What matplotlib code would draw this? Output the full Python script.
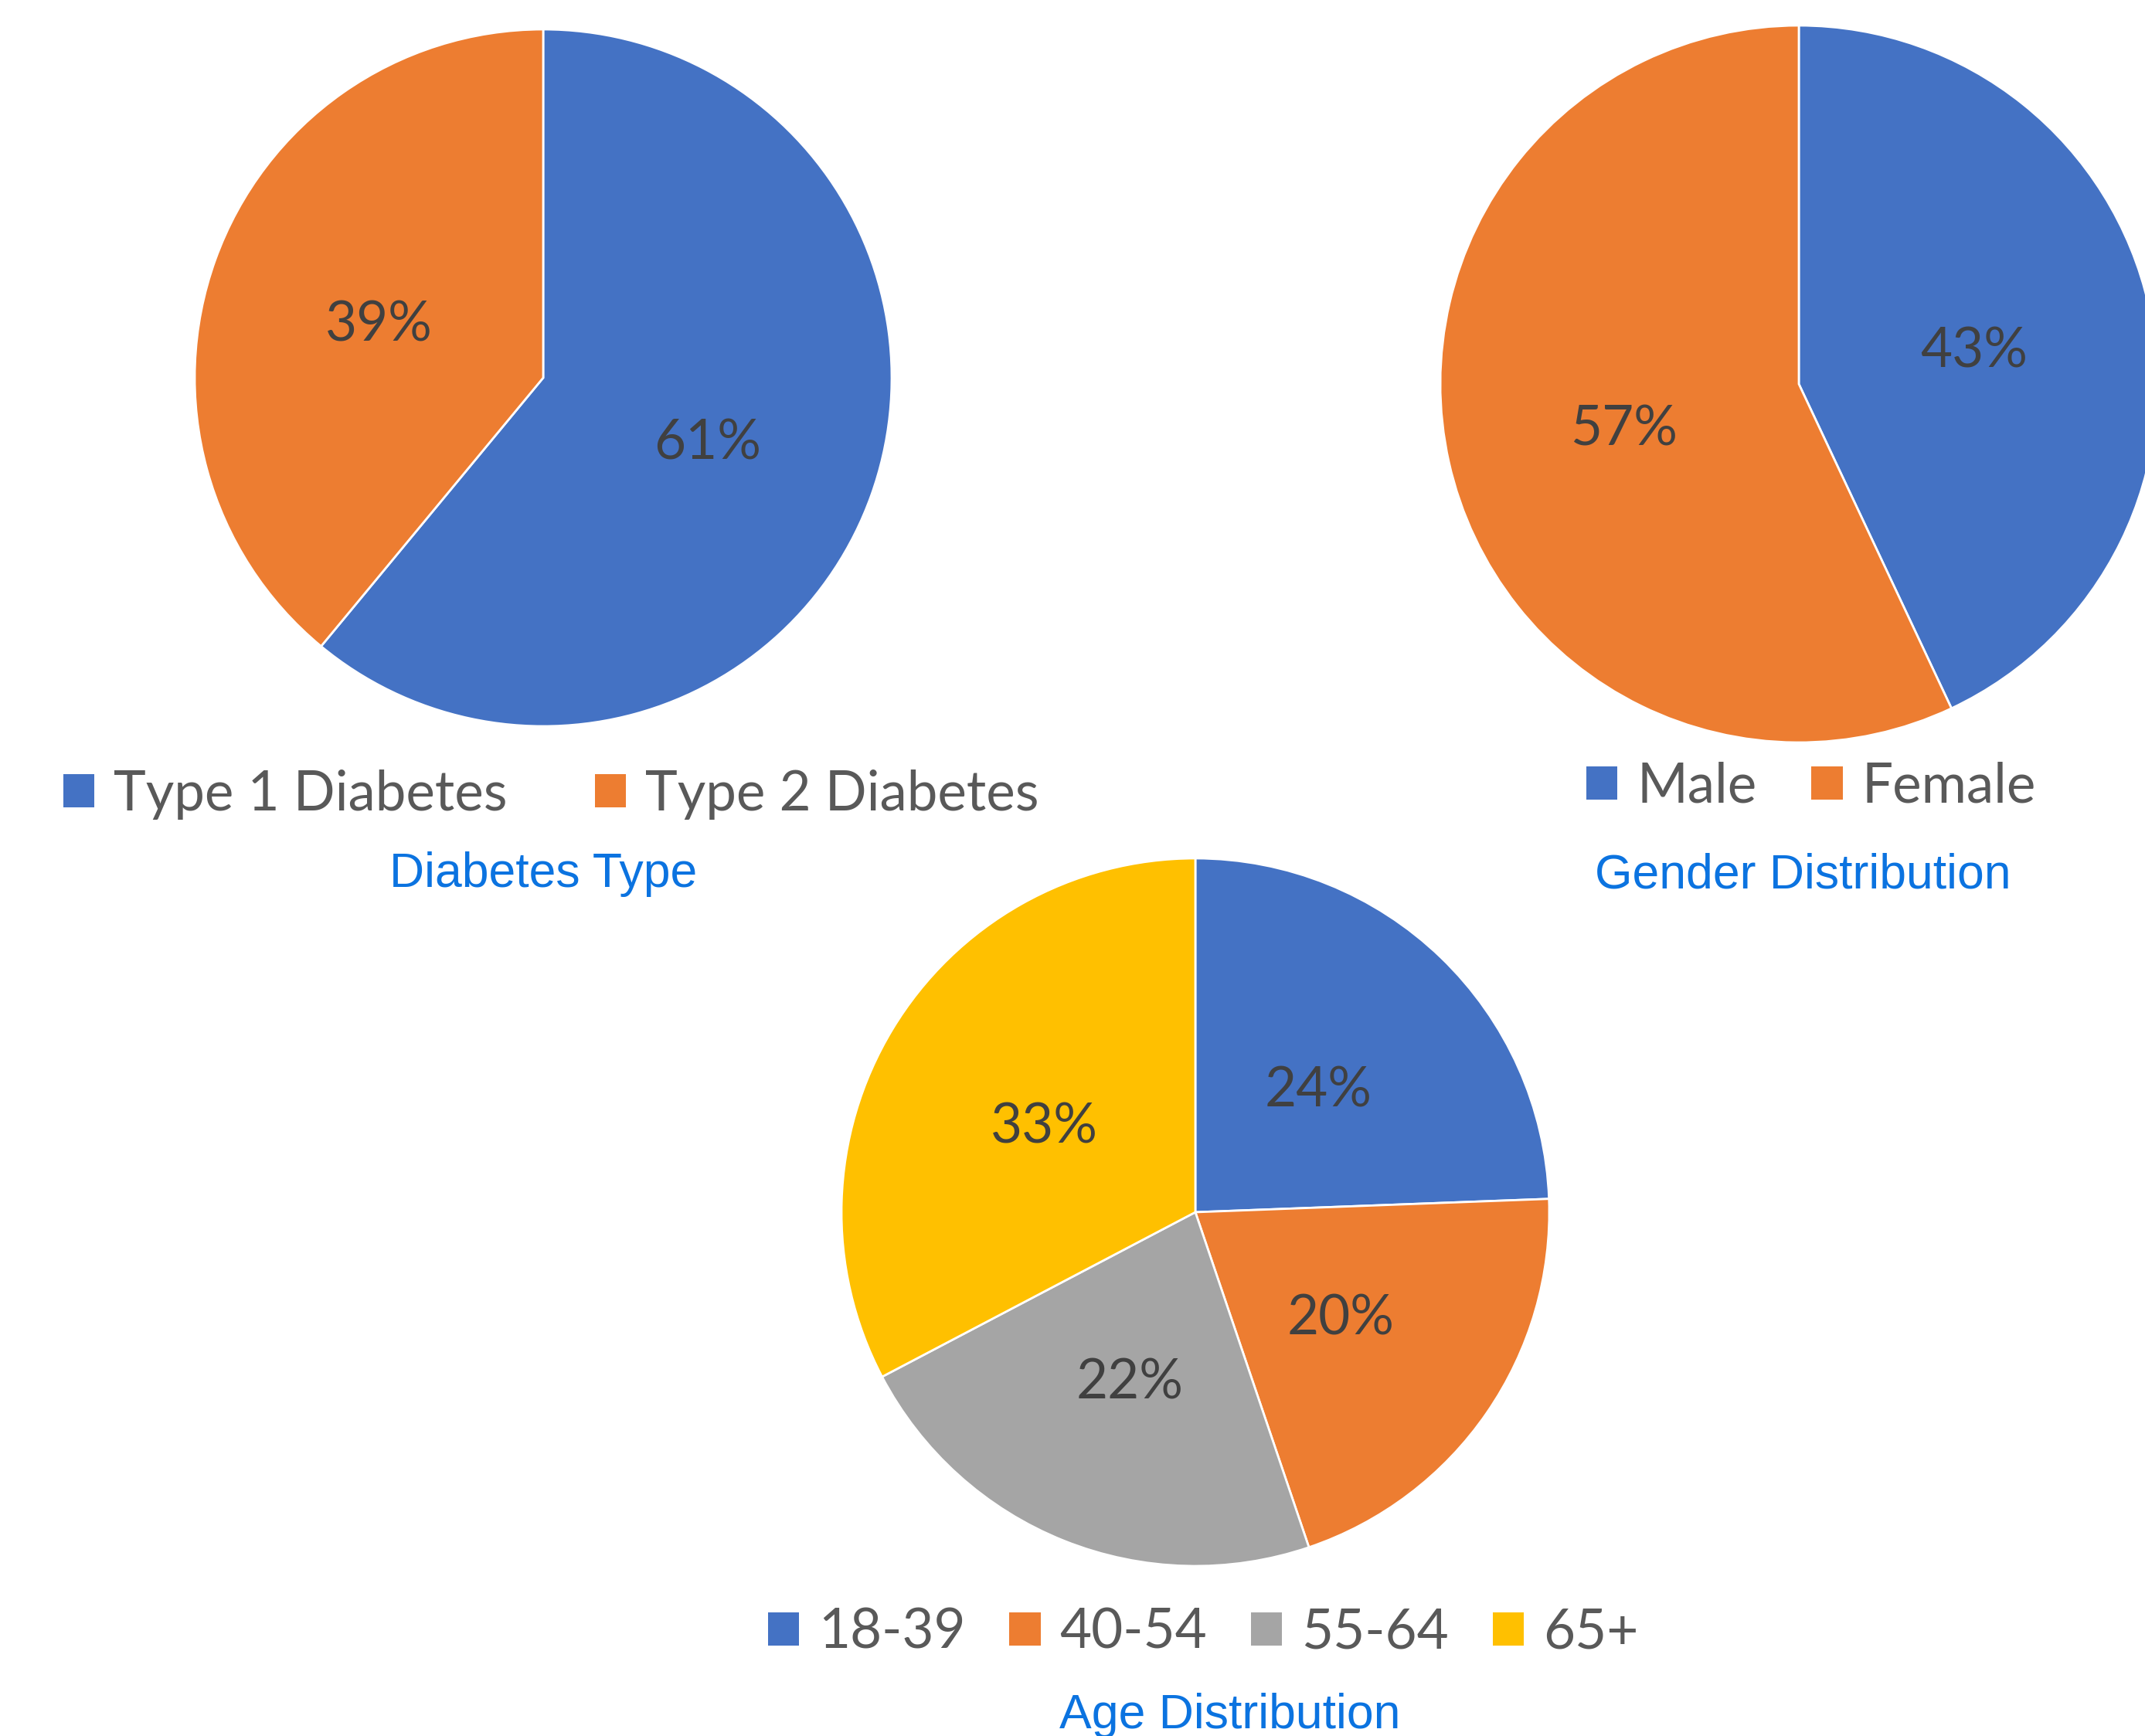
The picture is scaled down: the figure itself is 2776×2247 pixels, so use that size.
import matplotlib.pyplot as plt
from matplotlib.patches import Patch
from matplotlib.transforms import offset_copy

W, H = 2776, 2247

TYPE_LABELS = ['Type 1 Diabetes', 'Type 2 Diabetes']
TYPE_SHARE = [61, 39]

GENDER_LABELS = ['Male', 'Female']
GENDER_SHARE = [43, 57]

AGE_LABELS = ['18-39', '40-54', '55-64', '65+']
AGE_SHARE = [24.4, 20.4, 22.5, 32.7]

BLUE = '#4472C4'
ORANGE = '#ED7D31'
GRAY = '#A5A5A5'
YELLOW = '#FFC000'
TITLE_COLOR = '#0B73E0'
LABEL_COLOR = '#404040'
LEGEND_COLOR = '#595959'

LABEL_FONT = 'Lato'
TITLE_FONT = 'Liberation Sans'


def pie_axes(fig, cx, cy, r):
    # cx, cy, r in pixels (top-left origin)
    return fig.add_axes([(cx - r) / W, 1 - (cy + r) / H, 2 * r / W, 2 * r / H])


def draw_pie(ax, values, colors):
    wedges, texts, autotexts = ax.pie(
        values, colors=colors, startangle=90, counterclock=False,
        autopct='%.0f%%', pctdistance=0.5, radius=1,
        wedgeprops=dict(edgecolor='white', linewidth=2),
        textprops=dict(color=LABEL_COLOR, fontsize=51, family=LABEL_FONT))
    # pie() pads the limits, make the pie fill the axes
    ax.set_xlim(-1, 1)
    ax.set_ylim(-1, 1)
    ax.axis('off')
    # labels sit a little lower in the original
    for t in autotexts:
        t.set_transform(offset_copy(ax.transData, fig=ax.figure, x=0, y=-6, units='points'))


def add_legend(fig, labels, colors, x, y, colspace):
    handles = [Patch(facecolor=c, edgecolor='none') for c in colors]
    fig.legend(handles, labels, loc='center left',
               bbox_to_anchor=(x / W, 1 - y / H), ncol=len(labels),
               frameon=False, borderpad=0, borderaxespad=0,
               handlelength=0.57, handleheight=0.57, handletextpad=0.35,
               columnspacing=colspace,
               prop=dict(family=LABEL_FONT, size=51), labelcolor=LEGEND_COLOR)


def add_title(fig, text, x, y):
    fig.text(x / W, 1 - y / H, text, ha='center', va='baseline',
             fontsize=45, family=TITLE_FONT, color=TITLE_COLOR)


fig = plt.figure(figsize=(W / 100, H / 100), dpi=100)
fig.patch.set_facecolor('white')

ax1 = pie_axes(fig, 703, 489, 451)
draw_pie(ax1, TYPE_SHARE, [BLUE, ORANGE])
add_legend(fig, TYPE_LABELS, [BLUE, ORANGE], 82, 1028, 1.6)
add_title(fig, 'Diabetes Type', 703, 1148)

ax2 = pie_axes(fig, 2328, 497, 464)
draw_pie(ax2, GENDER_SHARE, [BLUE, ORANGE])
add_legend(fig, GENDER_LABELS, [BLUE, ORANGE], 2053, 1018, 1.0)
add_title(fig, 'Gender Distribution', 2333, 1150)

ax3 = pie_axes(fig, 1547, 1569, 458)
draw_pie(ax3, AGE_SHARE, [BLUE, ORANGE, GRAY, YELLOW])
add_legend(fig, AGE_LABELS, [BLUE, ORANGE, GRAY, YELLOW], 994, 2113, 0.8)
add_title(fig, 'Age Distribution', 1592, 2237)

fig.savefig('out.png', dpi=100, facecolor='white')
